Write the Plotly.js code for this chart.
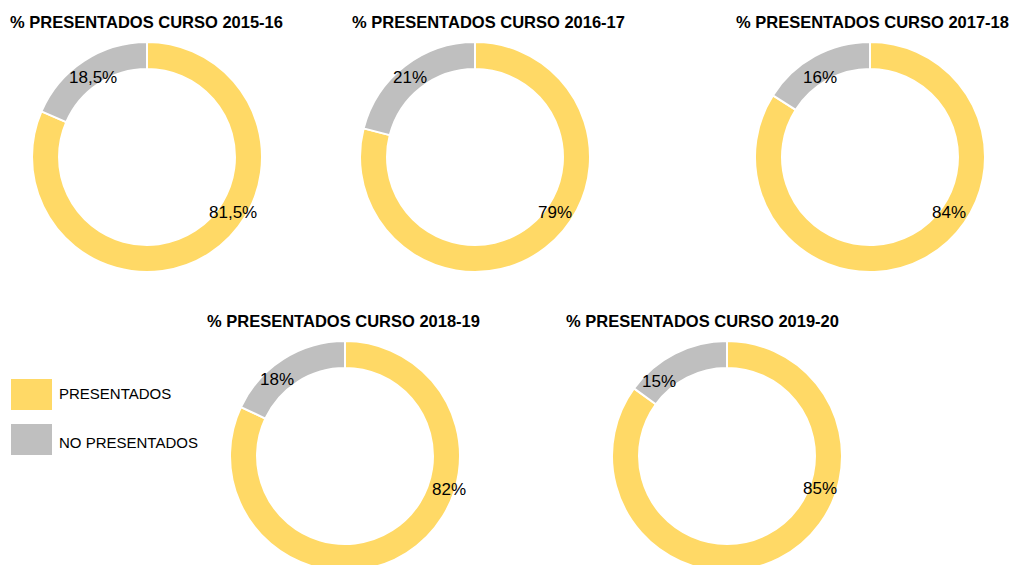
<!DOCTYPE html>
<html>
<head>
<meta charset="utf-8">
<script src="https://cdn.plot.ly/plotly-3.0.1.min.js"></script>
<style>
html,body{margin:0;padding:0;overflow:hidden;background:#fff;}
#chart{width:1009px;height:580px;}
</style>
</head>
<body>
<div id="chart"></div>
<script>
var categories = ["PRESENTADOS", "NO PRESENTADOS"];
var courses = ["2015-16", "2016-17", "2017-18", "2018-19", "2019-20"];
var presentados = [81.5, 79, 84, 82, 85];
var noPresentados = [18.5, 21, 16, 18, 15];
var colors = ["#FFD966", "#BFBFBF"];

var W = 1009, H = 580;
var FONT = 'Liberation Sans, Arial, sans-serif';
// layout: pixel box for each doughnut (left, top, size)
var boxes = [
  [32, 42, 230],
  [360, 42, 230],
  [755, 42, 230],
  [230, 341, 230],
  [612, 341, 230]
];
var titleCenters = [[146, 22], [488, 22], [872, 22], [343, 321], [702, 321]];
// label placement (style): offset from doughnut centre, px, [presentados, no presentados]
var labelOffsets = [
  [[86, 55], [-54, -79]],
  [[80, 55], [-65, -80]],
  [[79, 55], [-50, -79]],
  [[104, 33], [-68, -77]],
  [[93, 32], [-68, -75]]
];

function fmt(v) { return String(v).replace('.', ',') + '%'; }

var data = [];
var annotations = [];
for (var i = 0; i < courses.length; i++) {
  var b = boxes[i];
  var vals = [presentados[i], noPresentados[i]];
  var texts = vals.map(fmt);
  data.push({
    type: 'pie',
    hole: 0.765,
    sort: false,
    direction: 'clockwise',
    rotation: 0,
    labels: categories,
    values: vals,
    textinfo: 'none',
    marker: {colors: colors, line: {color: '#fff', width: 2}},
    showlegend: false,
    hoverinfo: 'label+percent',
    domain: {
      x: [b[0] / W, (b[0] + b[2]) / W],
      y: [1 - (b[1] + b[2]) / H, 1 - b[1] / H]
    }
  });
  annotations.push({
    text: '% PRESENTADOS CURSO ' + courses[i],
    xref: 'paper', yref: 'paper',
    x: titleCenters[i][0] / W, y: 1 - titleCenters[i][1] / H,
    xanchor: 'center', yanchor: 'middle', showarrow: false,
    font: {family: FONT, size: 16.5, color: '#000', weight: 'bold'}
  });
  var cx = b[0] + b[2] / 2, cy = b[1] + b[2] / 2;
  for (var k = 0; k < texts.length; k++) {
    var off = labelOffsets[i][k];
    annotations.push({
      text: texts[k],
      xref: 'paper', yref: 'paper',
      x: (cx + off[0]) / W, y: 1 - (cy + off[1]) / H,
      xanchor: 'center', yanchor: 'middle', showarrow: false,
      font: {family: FONT, size: 17, color: '#000'}
    });
  }
}

// legend (drawn manually to match the large swatches)
var legendRows = [[379, 410, 393], [424, 455, 442]];
var shapes = [];
for (var j = 0; j < categories.length; j++) {
  var r = legendRows[j];
  shapes.push({
    type: 'rect', xref: 'paper', yref: 'paper',
    x0: 11 / W, x1: 52 / W, y0: 1 - r[1] / H, y1: 1 - r[0] / H,
    fillcolor: colors[j], line: {width: 0}
  });
  annotations.push({
    text: categories[j], xref: 'paper', yref: 'paper',
    x: 57 / W, y: 1 - r[2] / H, xanchor: 'left', yanchor: 'middle',
    showarrow: false,
    font: {family: FONT, size: 15, color: '#000'}
  });
}

var layout = {
  width: W, height: H,
  margin: {l: 0, r: 0, t: 0, b: 0},
  paper_bgcolor: '#fff',
  showlegend: false,
  annotations: annotations,
  shapes: shapes
};
Plotly.newPlot('chart', data, layout, {displayModeBar: false, staticPlot: true});
</script>
</body>
</html>
